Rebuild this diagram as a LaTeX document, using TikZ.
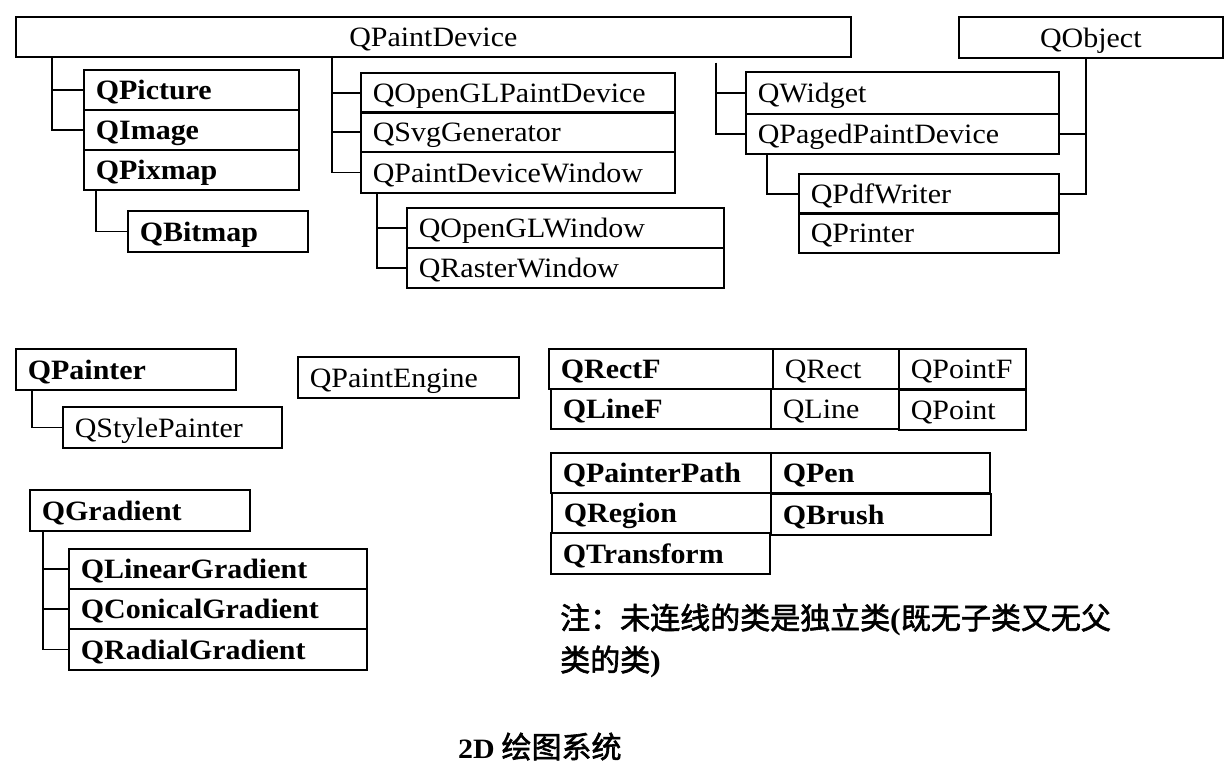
\documentclass[tikz,border=0pt]{standalone}
\usepackage{fontspec}
\setmainfont{Liberation Serif}[FakeStretch=1.07]
\newfontfamily\cjk{Noto Sans CJK SC}[FakeBold=2]
\newcommand\clsbox[7][left]{\node[box, align=#1, anchor=north west,
  text width={#5pt-#3pt-24pt}, minimum height={#6pt-#4pt}] (#2) at (#3,#4) {#7};}
\begin{document}
\begin{tikzpicture}[x=1pt,y=-1pt,
  box/.style={draw, line width=1.7pt, inner xsep=12pt, inner ysep=0pt,
    text height=30pt, text depth=10pt,
    font=\fontsize{28}{30}\selectfont},
  conn/.style={line width=1.7pt},
  cjktext/.style={inner sep=0pt, font=\fontsize{30}{32}\selectfont\cjk}]
\useasboundingbox (0,0) rectangle (1229,766);
% top hierarchy
\clsbox[center]{pd}{15}{16}{850}{56}{QPaintDevice}
\clsbox[center]{qobj}{958}{16}{1222}{57}{QObject}
\clsbox{qpic}{83}{69}{298}{109}{\bfseries QPicture}
\clsbox{qimg}{83}{109}{298}{149}{\bfseries QImage}
\clsbox{qpix}{83}{149}{298}{189}{\bfseries QPixmap}
\clsbox{qbit}{127}{210}{307}{251}{\bfseries QBitmap}
\clsbox{qogl}{360}{72}{674}{111}{QOpenGLPaintDevice}
\clsbox{qsvg}{360}{111}{674}{151}{QSvgGenerator}
\clsbox{qpdw}{360}{151}{674}{192}{QPaintDeviceWindow}
\clsbox{qoglw}{406}{207}{723}{246}{QOpenGLWindow}
\clsbox{qrw}{406}{247}{723}{286}{QRasterWindow}
\clsbox{qwid}{745}{71}{1058}{113}{QWidget}
\clsbox{qpaged}{745}{113}{1058}{153}{QPagedPaintDevice}
\clsbox{qpdf}{798}{173}{1058}{212}{QPdfWriter}
\clsbox{qprn}{798}{212}{1058}{250}{QPrinter}
% junction columns
\coordinate (j1) at (52,0);
\coordinate (j2) at (96,0);
\coordinate (j3) at (332,0);
\coordinate (j4) at (377,0);
\coordinate (j5) at (716,0);
\coordinate (j6) at (767,0);
\coordinate (j7) at (1086,0);
\coordinate (j8) at (32,0);
\coordinate (j9) at (43,0);
\draw[conn] (pd.south -| j1) |- (qimg.west);
\draw[conn] (j1 |- qpic.west) -- (qpic.west);
\draw[conn] (qpix.south -| j2) |- (qbit.west);
\draw[conn] (pd.south -| j3) |- (qpdw.west);
\draw[conn] (j3 |- qogl.west) -- (qogl.west);
\draw[conn] (j3 |- qsvg.west) -- (qsvg.west);
\draw[conn] (qpdw.south -| j4) |- (qrw.west);
\draw[conn] (j4 |- qoglw.west) -- (qoglw.west);
\draw[conn] ([yshift=-5pt]pd.south -| j5) |- (qpaged.west);
\draw[conn] (j5 |- qwid.west) -- (qwid.west);
\draw[conn] (qpaged.south -| j6) |- (qpdf.west);
\draw[conn] (qobj.south -| j7) |- (qpdf.east);
\draw[conn] (j7 |- qpaged.east) -- (qpaged.east);
% painter
\clsbox{qpainter}{15}{348}{235}{389}{\bfseries QPainter}
\clsbox{qsp}{62}{406}{281}{447}{QStylePainter}
\clsbox{qpe}{297}{356}{518}{397}{QPaintEngine}
\draw[conn] (qpainter.south -| j8) |- (qsp.west);
% gradients
\clsbox{qgrad}{29}{489}{249}{530}{\bfseries QGradient}
\clsbox{qlin}{68}{548}{366}{588}{\bfseries QLinearGradient}
\clsbox{qcon}{68}{588}{366}{628}{\bfseries QConicalGradient}
\clsbox{qrad}{68}{628}{366}{669}{\bfseries QRadialGradient}
\draw[conn] (qgrad.south -| j9) |- (qrad.west);
\draw[conn] (j9 |- qlin.west) -- (qlin.west);
\draw[conn] (j9 |- qcon.west) -- (qcon.west);
% independent classes
\clsbox{qrectf}{548}{348}{772}{387}{\bfseries QRectF}
\clsbox{qrect}{772}{348}{898}{387}{QRect}
\clsbox{qpointf}{898}{348}{1025}{387}{QPointF}
\clsbox{qlinef}{550}{388}{770}{428}{\bfseries QLineF}
\clsbox{qline}{770}{388}{898}{428}{QLine}
\clsbox{qpoint}{898}{389}{1025}{429}{QPoint}
\clsbox{qpp}{550}{452}{770}{492}{\bfseries QPainterPath}
\clsbox{qpen}{770}{452}{989}{492}{\bfseries QPen}
\clsbox{qreg}{551}{492}{770}{532}{\bfseries QRegion}
\clsbox{qbrush}{770}{493}{990}{534}{\bfseries QBrush}
\clsbox{qtr}{550}{532}{769}{573}{\bfseries QTransform}
% note and title
\node[cjktext, anchor=base west] (note1) at (560,629)
  {注：未连线的类是独立类{\rmfamily\bfseries (}既无子类又无父};
\node[cjktext, anchor=base west] (note2) at (560,671)
  {类的类{\rmfamily\bfseries )}};
\node[cjktext, anchor=base west] (title) at (458,758)
  {{\rmfamily\bfseries\fontsize{28}{30}\selectfont 2D} 绘图系统};
\end{tikzpicture}
\end{document}
